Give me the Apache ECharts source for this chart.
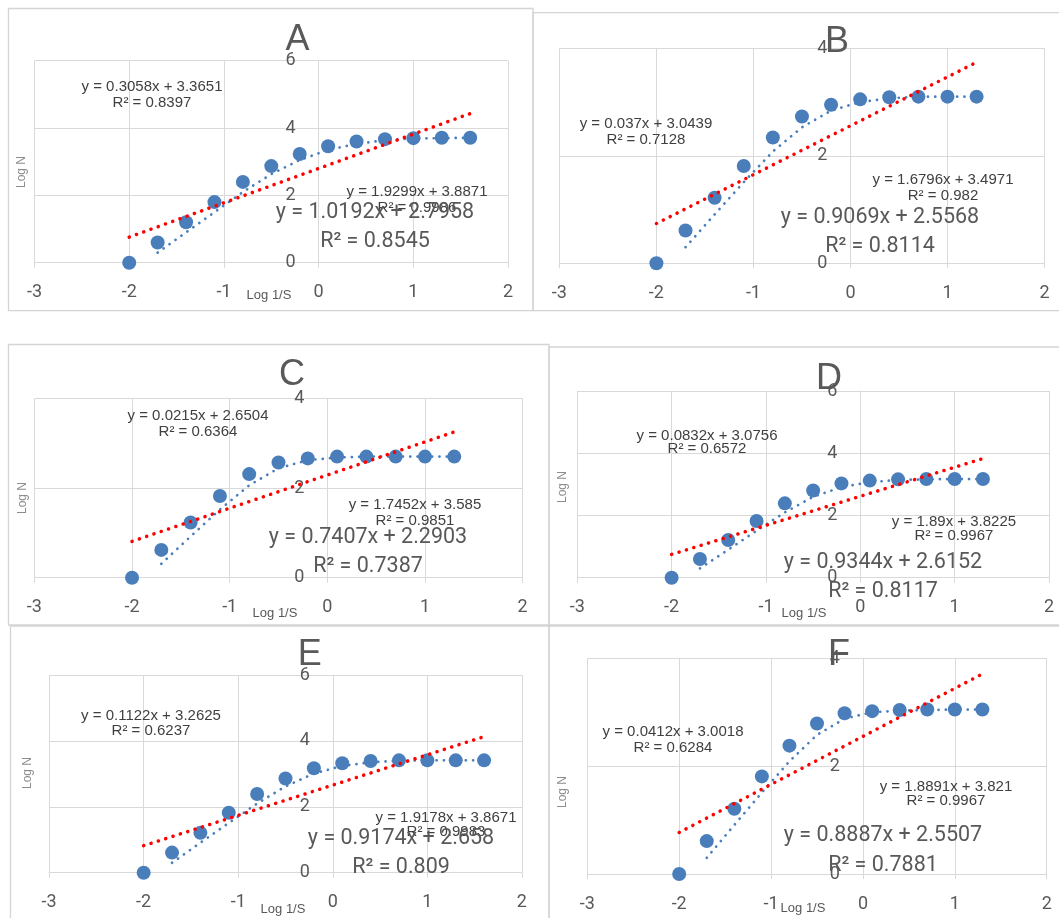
<!DOCTYPE html>
<html>
<head>
<meta charset="utf-8">
<script src="https://cdn.jsdelivr.net/npm/echarts@6/dist/echarts.min.js"></script>
<style>
html,body{margin:0;padding:0;background:#fff;}
#c{width:1059px;height:918px;}
</style>
</head>
<body>
<div id="c"></div>
<script>
// ---- data ----
const logS13 = [-2, -1.7, -1.4, -1.1, -0.8, -0.5, -0.2, 0.1, 0.4, 0.7, 1.0, 1.3, 1.6];
const logS12 = [-2, -1.7, -1.4, -1.1, -0.8, -0.5, -0.2, 0.1, 0.4, 0.7, 1.0, 1.3];

const logN_A = [0, 0.60, 1.20, 1.80, 2.40, 2.87, 3.23, 3.46, 3.60, 3.67, 3.70, 3.71, 3.71];
const logN_B = [0, 0.61, 1.22, 1.81, 2.34, 2.73, 2.95, 3.05, 3.09, 3.10, 3.10, 3.10];
const logN_C = [0, 0.62, 1.23, 1.82, 2.31, 2.57, 2.66, 2.70, 2.70, 2.70, 2.70, 2.70];
const logN_D = [0, 0.60, 1.21, 1.82, 2.39, 2.80, 3.03, 3.12, 3.16, 3.17, 3.17, 3.17];
const logN_E = [0, 0.61, 1.21, 1.82, 2.39, 2.86, 3.17, 3.32, 3.39, 3.41, 3.41, 3.41, 3.41];
const logN_F = [0, 0.61, 1.21, 1.81, 2.38, 2.79, 2.98, 3.02, 3.04, 3.05, 3.05, 3.05];

// blue dotted trend (starts at the second x value)
const trend_A = [0.30, 0.90, 1.50, 2.10, 2.63, 3.05, 3.35, 3.53, 3.64, 3.69, 3.70, 3.71];
const trend_B = [0.30, 0.91, 1.51, 2.08, 2.53, 2.84, 3.00, 3.07, 3.10, 3.10, 3.10];
const trend_C = [0.31, 0.92, 1.52, 2.06, 2.44, 2.62, 2.68, 2.70, 2.70, 2.70, 2.70];
const trend_D = [0.30, 0.90, 1.51, 2.10, 2.60, 2.91, 3.07, 3.14, 3.16, 3.17, 3.17];
const trend_E = [0.30, 0.91, 1.51, 2.10, 2.62, 3.01, 3.24, 3.35, 3.40, 3.41, 3.41, 3.41];
const trend_F = [0.30, 0.91, 1.51, 2.09, 2.58, 2.88, 3.00, 3.03, 3.04, 3.05, 3.05];

// red dotted linear fit: value at first and last x
const fit_A = [0.76, 4.43];
const fit_B = [0.74, 3.74];
const fit_C = [0.81, 3.25];
const fit_D = [0.75, 3.83];
const fit_E = [0.82, 4.13];
const fit_F = [0.77, 3.71];

const yMaxes = [6, 4, 4, 6, 6, 4];
const xTicks = [-3, 2, 1];

const panelNames = ['A', 'B', 'C', 'D', 'E', 'F'];
const eqSmall1 = [
  ['y = 0.3058x + 3.3651', 'R² = 0.8397'],
  ['y = 0.037x + 3.0439', 'R² = 0.7128'],
  ['y = 0.0215x + 2.6504', 'R² = 0.6364'],
  ['y = 0.0832x + 3.0756', 'R² = 0.6572'],
  ['y = 0.1122x + 3.2625', 'R² = 0.6237'],
  ['y = 0.0412x + 3.0018', 'R² = 0.6284']
];
const eqSmall2 = [
  ['y = 1.9299x + 3.8871', 'R² = 0.9986'],
  ['y = 1.6796x + 3.4971', 'R² = 0.982'],
  ['y = 1.7452x + 3.585', 'R² = 0.9851'],
  ['y = 1.89x + 3.8225', 'R² = 0.9967'],
  ['y = 1.9178x + 3.8671', 'R² = 0.9983'],
  ['y = 1.8891x + 3.821', 'R² = 0.9967']
];
const eqBig = [
  ['y = 1.0192x + 2.7958', 'R² = 0.8545'],
  ['y = 0.9069x + 2.5568', 'R² = 0.8114'],
  ['y = 0.7407x + 2.2903', 'R² = 0.7387'],
  ['y = 0.9344x + 2.6152', 'R² = 0.8117'],
  ['y = 0.9174x + 2.658', 'R² = 0.809'],
  ['y = 0.8887x + 2.5507', 'R² = 0.7881']
];

// ---- layout (pixels) ----
const grids = [
  {left: 34.5, top: 60.7, width: 473.6, height: 202},
  {left: 559.4, top: 48.3, width: 485.1, height: 215},
  {left: 34.4, top: 398.3, width: 488.2, height: 179.4},
  {left: 577.3, top: 391, width: 471.7, height: 186.7},
  {left: 49.1, top: 675, width: 472.8, height: 197.7},
  {left: 587.3, top: 658.3, width: 459.4, height: 215.7}
];
const frames = [
  [8.5, 8.5, 524.5, 302.2],
  [533, 12.7, 530, 298],
  [8.5, 344.5, 540.5, 280.5],
  [549, 347, 514, 278],
  [10.5, 626, 538.5, 300],
  [549, 626, 514, 300]
];
const titlePos = [[297.5, 40], [837, 42], [292, 375], [829, 379], [309.7, 655], [839, 655]];
const small1Pos = [[152, 87, 103], [646, 124, 140], [198, 416, 432], [707, 436, 449], [151, 716, 731], [673, 732, 748]];
const small2Pos = [[417, 192, 208], [943, 180, 196], [415, 505, 521], [954, 522, 536], [446, 818, 832], [946, 787, 801]];
const bigPos = [[375, 213, 242], [880, 218, 247], [368, 538, 567], [883, 563, 592], [401, 839, 868], [883, 836, 866]];
const xTitlePos = [[269, 295], null, [275, 613], [804, 613], [283, 909], [803, 908]];
const yTitlePos = [[22, 172], null, [23, 498], [563, 487], [28, 773], [563, 792]];

const xs = [logS13, logS12, logS12, logS12, logS13, logS12];
const ys = [logN_A, logN_B, logN_C, logN_D, logN_E, logN_F];
const trends = [trend_A, trend_B, trend_C, trend_D, trend_E, trend_F];
const fits = [fit_A, fit_B, fit_C, fit_D, fit_E, fit_F];

const gridColor = '#d9d9d9';
const labelColor = '#595959';
const tickFont = 'Roboto, "Liberation Sans", sans-serif';
const blue = '#4A7EBB';

// the vertical axis sits at x = 0, i.e. 3/5 of the way across each grid
const zeroFrac = (0 - xTicks[0]) / (xTicks[1] - xTicks[0]);

const option = {
  animation: false,
  backgroundColor: '#ffffff',
  grid: grids.map(g => Object.assign({containLabel: false}, g)),
  xAxis: grids.map((g, i) => ({
    gridIndex: i, type: 'value', min: xTicks[0], max: xTicks[1], interval: xTicks[2],
    position: 'bottom',
    axisLine: {show: true, onZero: false, lineStyle: {color: gridColor, width: 1}},
    axisTick: {show: true, length: 5, lineStyle: {color: gridColor}},
    axisLabel: {fontSize: 18, color: labelColor, margin: 21, fontFamily: tickFont},
    splitLine: {show: true, lineStyle: {color: gridColor, width: 1}}
  })),
  yAxis: grids.map((g, i) => ({
    gridIndex: i, type: 'value', min: 0, max: yMaxes[i], interval: 2,
    position: 'left', offset: -g.width * zeroFrac,
    axisLine: {show: true, onZero: false, lineStyle: {color: gridColor, width: 1}},
    axisTick: {show: false},
    axisLabel: {fontSize: 18, color: labelColor, margin: 23, fontFamily: tickFont},
    splitLine: {show: true, lineStyle: {color: gridColor, width: 1}}
  })),
  series: [],
  graphic: []
};

for (let i = 0; i < 6; i++) {
  const x = xs[i], y = ys[i];
  option.series.push({
    type: 'scatter', xAxisIndex: i, yAxisIndex: i, z: 2,
    symbolSize: 14, itemStyle: {color: blue, opacity: 1},
    data: x.map((v, k) => [v, y[k]])
  });
  option.series.push({
    type: 'line', xAxisIndex: i, yAxisIndex: i, z: 3,
    symbol: 'none', smooth: false,
    lineStyle: {color: blue, width: 2.7, type: [0.1, 7.2], cap: 'round'},
    data: trends[i].map((v, k) => [x[k + 1], v])
  });
  option.series.push({
    type: 'line', xAxisIndex: i, yAxisIndex: i, z: 4,
    symbol: 'none',
    lineStyle: {color: '#FF0000', width: 3.5, type: [0.1, 7.6], cap: 'round'},
    data: [[x[0], fits[i][0]], [x[x.length - 1], fits[i][1]]]
  });

  const f = frames[i];
  option.graphic.push({
    type: 'rect', z: -10, silent: true,
    shape: {x: f[0], y: f[1], width: f[2], height: f[3]},
    style: {fill: 'none', stroke: '#d4d4d4', lineWidth: 1.3}
  });
  const txt = (t, px, py, size, color, fam, rot) => ({
    type: 'text', z: 100, silent: true, x: px, y: py, rotation: rot || 0,
    style: {text: t, fill: color, font: size + 'px ' + fam,
            align: 'center', verticalAlign: 'middle',
            textAlign: 'center', textVerticalAlign: 'middle'}
  });
  option.graphic.push(txt(panelNames[i], titlePos[i][0], titlePos[i][1], 36, labelColor, '"Liberation Sans", sans-serif'));
  const sFam = '"Liberation Sans", Arial, sans-serif';
  option.graphic.push(txt(eqSmall1[i][0], small1Pos[i][0], small1Pos[i][1], 15, '#404040', sFam));
  option.graphic.push(txt(eqSmall1[i][1], small1Pos[i][0], small1Pos[i][2], 15, '#404040', sFam));
  option.graphic.push(txt(eqSmall2[i][0], small2Pos[i][0], small2Pos[i][1], 15, '#404040', sFam));
  option.graphic.push(txt(eqSmall2[i][1], small2Pos[i][0], small2Pos[i][2], 15, '#404040', sFam));
  option.graphic.push(txt(eqBig[i][0], bigPos[i][0], bigPos[i][1], 21.5, labelColor, tickFont));
  option.graphic.push(txt(eqBig[i][1], bigPos[i][0], bigPos[i][2], 21.5, labelColor, tickFont));
  if (xTitlePos[i]) option.graphic.push(txt('Log 1/S', xTitlePos[i][0], xTitlePos[i][1], 13, labelColor, sFam));
  if (yTitlePos[i]) option.graphic.push(txt('Log N', yTitlePos[i][0], yTitlePos[i][1], 12, '#8c8c8c', sFam, Math.PI / 2));
}

const chart = echarts.init(document.getElementById('c'), null, {renderer: 'canvas'});
chart.setOption(option);
</script>
</body>
</html>
